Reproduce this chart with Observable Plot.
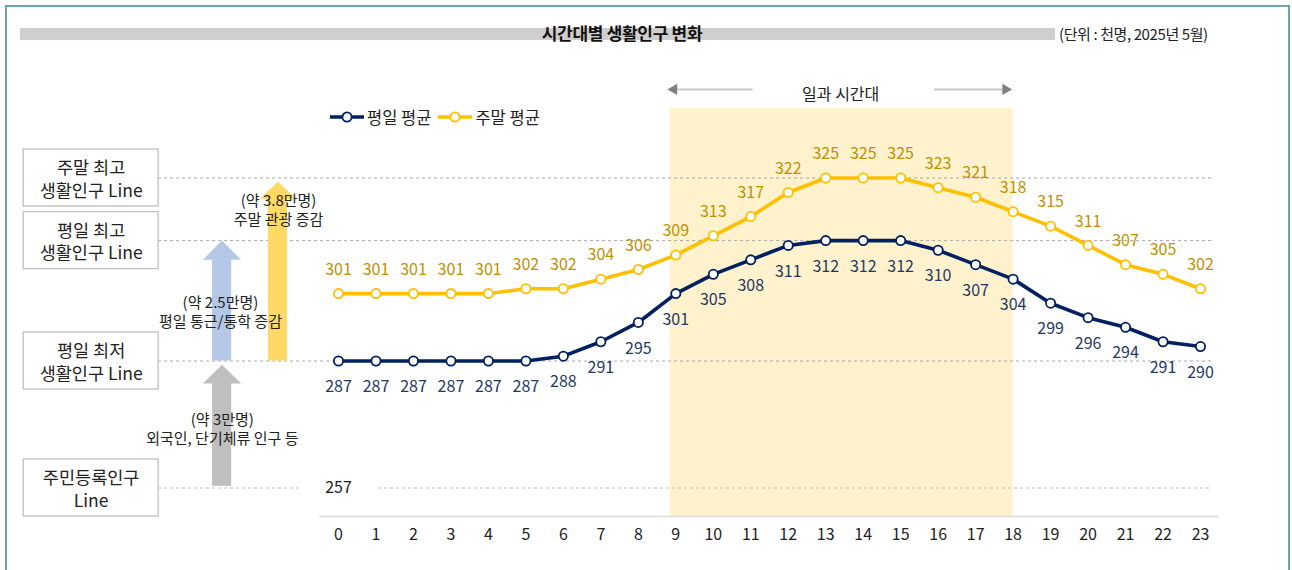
<!DOCTYPE html>
<html><head><meta charset="utf-8">
<script src="https://cdn.jsdelivr.net/npm/d3@7"></script>
<script src="https://cdn.jsdelivr.net/npm/@observablehq/plot@0.6"></script>
<style>
body{margin:0;background:#fff;font-family:"Noto Sans CJK KR","Noto Sans",sans-serif;}
#wrap{position:relative;width:1292px;height:570px;overflow:hidden;}
#border{position:absolute;left:5px;top:5px;width:1285px;height:620px;border:2px solid #6ea4a7;box-sizing:border-box;}
#bar{position:absolute;left:20px;top:28px;width:1035px;height:12px;background:#d0cece;}
#title{position:absolute;left:472px;top:22px;width:300px;text-align:center;font-weight:bold;font-size:17px;color:#111;line-height:22px;letter-spacing:-0.3px;}
#unit{position:absolute;left:1059px;top:23px;font-size:15px;color:#222;line-height:22px;letter-spacing:-0.4px;}
#legend{position:absolute;left:330px;top:106px;display:flex;align-items:center;font-size:16.5px;color:#222;line-height:22px;}
#legend svg{margin-right:3px}
#chart{position:absolute;left:0;top:0;}
</style></head>
<body>
<div id="wrap">
  <div id="chart"></div>
  <div id="border"></div>
  <div id="bar"></div>
  <div id="title">시간대별 생활인구 변화</div>
  <div id="unit">(단위 : 천명, 2025년 5월)</div>
  <div id="legend"></div>
</div>
<script>
// ---- data ----
const hours = [0,1,2,3,4,5,6,7,8,9,10,11,12,13,14,15,16,17,18,19,20,21,22,23];
const weekday = [287,287,287,287,287,287,288,291,295,301,305,308,311,312,312,312,310,307,304,299,296,294,291,290];
const weekend = [301,301,301,301,301,302,302,304,306,309,313,317,322,325,325,325,323,321,318,315,311,307,305,302];
const seriesNames = ["평일 평균", "주말 평균"];
const refValues = [325, 312, 287, 257];
const refLabels = ["주말 최고\n생활인구 Line", "평일 최고\n생활인구 Line", "평일 최저\n생활인구 Line", "주민등록인구\nLine"];
const residentValue = 257;
const coreHours = [9, 18];
const coreLabel = "일과 시간대";
const gapLabels = ["(약 3만명)\n외국인, 단기체류 인구 등", "(약 2.5만명)\n평일 통근/통학 증감", "(약 3.8만명)\n주말 관광 증감"];

const navy = "#002060", gold = "#ffc000";
const rowsWd = hours.map((h, i) => ({hour: h, v: weekday[i]}));
const rowsWe = hours.map((h, i) => ({hour: h, v: weekend[i]}));

// legend
const leg = document.getElementById("legend");
[[navy, seriesNames[0]], [gold, seriesNames[1]]].forEach(([c, t], k) => {
  const s = document.createElementNS("http://www.w3.org/2000/svg", "svg");
  s.setAttribute("width", 34); s.setAttribute("height", 14);
  s.innerHTML = `<line x1="0" x2="34" y1="7" y2="7" stroke="${c}" stroke-width="3.5"/><circle cx="17" cy="7" r="4.6" fill="#fff" stroke="${c}" stroke-width="1.8"/>`;
  if (k === 1) s.style.marginLeft = "7px";
  leg.appendChild(s);
  const sp = document.createElement("span"); sp.textContent = t; leg.appendChild(sp);
});

const font = '"Noto Sans CJK KR","Noto Sans",sans-serif';
const tri = (xl, xr, yb, yt) => [{x: xl, y: yb}, {x: xr, y: yb}, {x: (xl + xr) / 2, y: yt}];

const chart = Plot.plot({
  width: 1292, height: 570,
  marginLeft: 338, marginRight: 92, marginTop: 108, marginBottom: 54,
  style: {fontFamily: font, fontSize: "16px", background: "transparent", overflow: "visible", color: "#222"},
  x: {domain: [0, 23], ticks: hours, tickSize: 0, tickPadding: 12, label: null, tickFormat: d => String(d)},
  y: {type: "linear", domain: [250, 257, 287, 325], range: [516, 487.5, 360.5, 177.5], axis: null},
  marks: [
    // 일과 시간대 band
    Plot.rect([coreHours], {x1: d => d[0] - 0.15, x2: d => d[1], fill: "#fff2cc"}),
    Plot.text([coreLabel], {x: (coreHours[0] + coreHours[1]) / 2 - 0.1, y: 342.3, text: d => d, fontSize: 16, fill: "#222"}),
    Plot.ruleY([343.4], {x1: 9.0, x2: 11.06, stroke: "#c9c9c9", strokeWidth: 2}),
    Plot.ruleY([343.4], {x1: 15.9, x2: 17.75, stroke: "#c9c9c9", strokeWidth: 2}),
    Plot.dot([coreHours[0]], {x: d => d - 0.05, y: 343.4, symbol: "triangle", rotate: -90, r: 4.2, fill: "#7f7f7f", stroke: null}),
    Plot.dot([coreHours[1]], {x: d => d - 0.2, y: 343.4, symbol: "triangle", rotate: 90, r: 4.2, fill: "#7f7f7f", stroke: null}),
    // reference dashed lines
    Plot.ruleY(refValues.slice(0, 3), {x1: -4.8, x2: 23.3, stroke: "#a6a6a6", strokeWidth: 1, strokeDasharray: "3,3"}),
    Plot.ruleY([residentValue], {x1: -4.8, x2: -0.96, stroke: "#bcbcbc", strokeWidth: 1, strokeDasharray: "3,3"}),
    Plot.ruleY([residentValue], {x1: 1.07, x2: 23.3, stroke: "#bcbcbc", strokeWidth: 1, strokeDasharray: "3,3"}),
    Plot.text([residentValue], {x: 0, y: d => d, text: d => String(d), fontSize: 16, fill: "#222"}),
    // left label boxes
    Plot.rect(refValues, {x1: -8.4, x2: -4.8, y1: d => d, y2: d => d, insetTop: -28.5, insetBottom: -28.5, fill: "#fff", stroke: "#bfbfbf", strokeWidth: 1.3}),
    Plot.text(refValues, {x: -6.6, y: d => d, text: (d, i) => refLabels[i], fontSize: 17.5, lineHeight: 1.3, fill: "#222"}),
    // gap arrows
    Plot.rect([[257, 281.7]], {x1: -3.36, x2: -2.85, y1: d => d[0] + 0.4, y2: d => d[1], fill: "#bfbfbf"}),
    Plot.line(tri(-3.62, -2.6, 281.7, 286.1), {x: "x", y: "y", fill: "#bfbfbf", stroke: null}),
    Plot.rect([[287, 308]], {x1: -3.36, x2: -2.85, y1: d => d[0], y2: d => d[1], fill: "#b4c7e7"}),
    Plot.line(tri(-3.62, -2.6, 308, 312), {x: "x", y: "y", fill: "#b4c7e7", stroke: null}),
    Plot.rect([[287, 320.7]], {x1: -1.87, x2: -1.36, y1: d => d[0], y2: d => d[1], fill: "#ffd966"}),
    Plot.line(tri(-2.1, -1.13, 320.7, 324.2), {x: "x", y: "y", fill: "#ffd966", stroke: null}),
    Plot.text([gapLabels[0]], {x: -3.1, y: 271.1, text: d => d, fontSize: 15, lineHeight: 1.3, fill: "#222"}),
    Plot.text([gapLabels[1]], {x: -3.15, y: 297.3, text: d => d, fontSize: 15, lineHeight: 1.3, fill: "#222"}),
    Plot.text([gapLabels[2]], {x: -1.6, y: 318.5, text: d => d, fontSize: 15, lineHeight: 1.3, fill: "#222"}),
    // axis baseline
    Plot.ruleY([250], {x1: -0.5, x2: 23.5, stroke: "#d9d9d9", strokeWidth: 1.5}),
    // series
    Plot.line(rowsWe, {x: "hour", y: "v", stroke: gold, strokeWidth: 3.6}),
    Plot.line(rowsWd, {x: "hour", y: "v", stroke: navy, strokeWidth: 3.6}),
    Plot.dot(rowsWe, {x: "hour", y: "v", r: 4.6, fill: "#fff", stroke: gold, strokeWidth: 1.8}),
    Plot.dot(rowsWd, {x: "hour", y: "v", r: 4.6, fill: "#fff", stroke: navy, strokeWidth: 1.8}),
    Plot.text(rowsWe, {x: "hour", y: "v", text: d => String(d.v), dy: -24, fontSize: 16, fill: "#bf9000"}),
    Plot.text(rowsWd, {x: "hour", y: "v", text: d => String(d.v), dy: 26, fontSize: 16, fill: "#1f3864"})
  ]
});
document.getElementById("chart").appendChild(chart);
</script>
</body></html>
